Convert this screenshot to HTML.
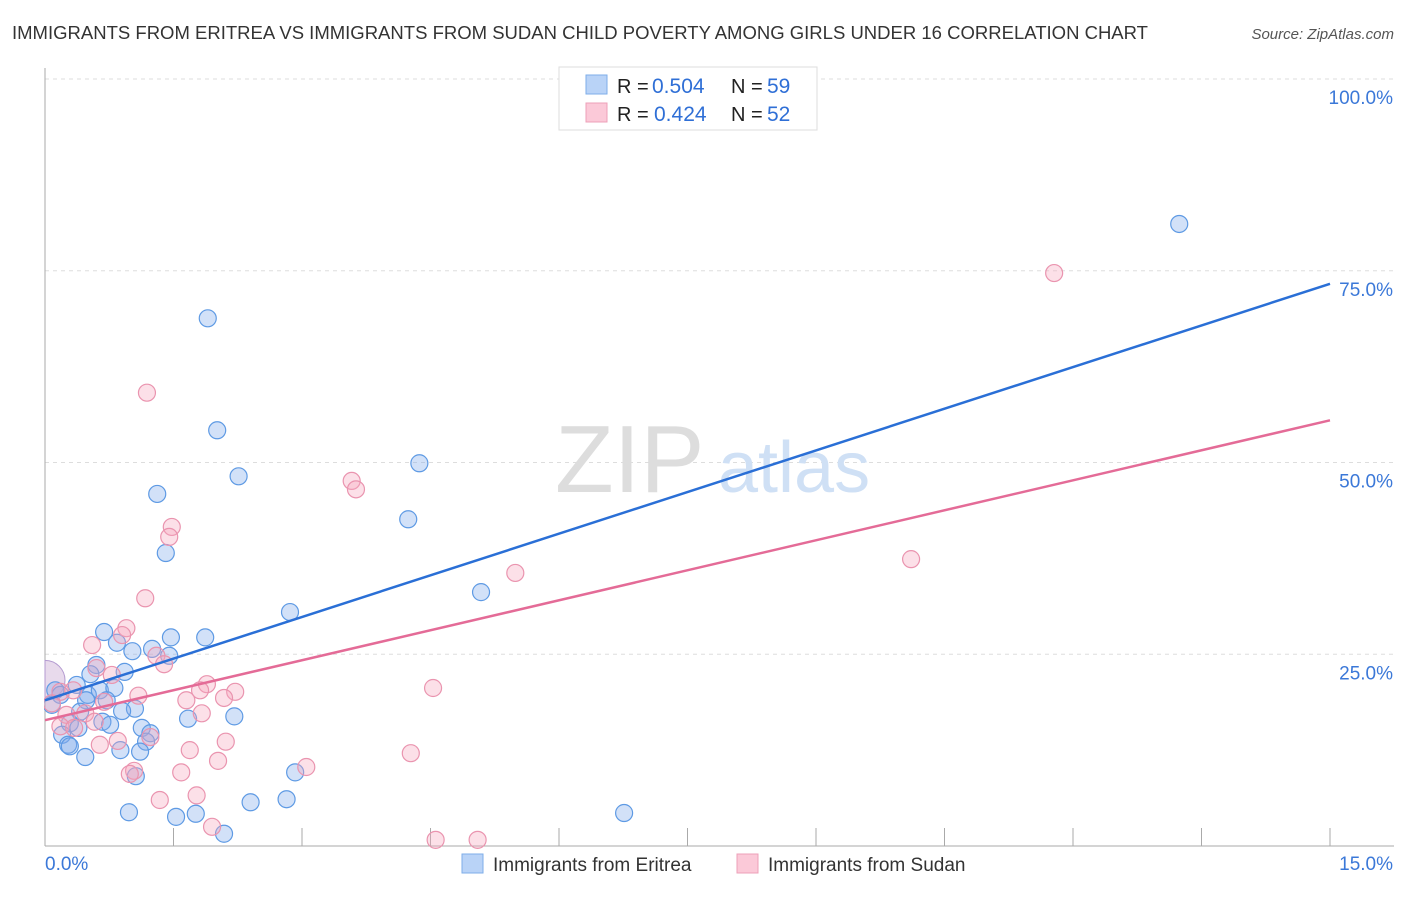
<!DOCTYPE html>
<html><head><meta charset="utf-8"><style>
body{margin:0;background:#fff;font-family:"Liberation Sans",sans-serif;}
svg text{font-family:"Liberation Sans",sans-serif;}
</style></head><body>
<svg id="chart" width="1406" height="892" xmlns="http://www.w3.org/2000/svg">
<text x="12" y="39" font-size="18" fill="#333" textLength="1136" lengthAdjust="spacingAndGlyphs">IMMIGRANTS FROM ERITREA VS IMMIGRANTS FROM SUDAN CHILD POVERTY AMONG GIRLS UNDER 16 CORRELATION CHART</text>
<text x="1394" y="39" font-size="15" fill="#555" font-style="italic" text-anchor="end">Source: ZipAtlas.com</text>
<text x="0" y="0" transform="translate(33,456) rotate(-90)" font-size="18" fill="#333" text-anchor="middle">Child Poverty Among Girls Under 16</text>
<g id="grid"></g>
<text x="555" y="492" font-size="96" fill="#ddd" font-family="Liberation Serif">ZIP</text>
<text x="718" y="492" font-size="72" fill="#cfe0f5">atlas</text>
<g id="pts"></g>
<g id="lines"></g>
<g>
<rect x="559" y="67" width="258" height="63" fill="#fff" stroke="#ddd"/>
<rect x="586" y="75" width="21" height="19" fill="#b9d3f7" stroke="#7eaee8"/>
<rect x="586" y="103" width="21" height="19" fill="#fbc9d8" stroke="#eea0b8"/>
<text x="617" y="93" font-size="20" fill="#222">R =</text>
<text x="652" y="93" font-size="21" fill="#2f6fd6">0.504</text>
<text x="731" y="93" font-size="20" fill="#222">N =</text>
<text x="767" y="93" font-size="21" fill="#2f6fd6">59</text>
<text x="617" y="121" font-size="20" fill="#222">R =</text>
<text x="654" y="121" font-size="21" fill="#2f6fd6">0.424</text>
<text x="731" y="121" font-size="20" fill="#222">N =</text>
<text x="767" y="121" font-size="21" fill="#2f6fd6">52</text>
</g>
<g>
<rect x="462" y="854" width="21" height="19" fill="#b9d3f7" stroke="#7eaee8"/>
<text x="493" y="871" font-size="19" fill="#333">Immigrants from Eritrea</text>
<rect x="737" y="854" width="21" height="19" fill="#fbc9d8" stroke="#eea0b8"/>
<text x="768" y="871" font-size="19" fill="#333">Immigrants from Sudan</text>
</g>
</svg>
<script>
const xTicks=[0,1.5,3,4.5,6,7.5,9,10.5,12,13.5,15];
const yTicks=[25,50,75,100];
const yTickLabels=["25.0%","50.0%","75.0%","100.0%"];
const blueX=[13.24,1.90,2.01,2.26,1.31,4.37,4.24,1.41,5.09,2.86,1.47,1.87,0.69,0.84,1.02,1.25,1.45,0.60,0.93,0.53,0.37,0.12,0.18,0.50,0.64,0.81,0.48,0.72,0.08,1.05,0.90,0.41,1.67,2.21,0.67,0.76,0.29,0.39,1.13,1.23,0.20,1.18,0.27,0.29,0.88,1.11,0.47,1.06,2.92,2.40,2.82,0.98,1.53,1.76,2.09,6.76];
const blueY=[81.1,68.8,54.2,48.2,45.9,49.9,42.6,38.2,33.1,30.5,27.2,27.2,27.9,26.5,25.4,25.7,24.8,23.6,22.7,22.4,21.0,20.3,19.7,19.7,20.3,20.6,19.0,19.0,18.4,17.9,17.6,17.5,16.6,16.9,16.2,15.8,16.0,15.4,15.4,14.7,14.5,13.6,13.2,13.0,12.5,12.3,11.6,9.1,9.6,5.7,6.1,4.4,3.8,4.2,1.6,4.3];
const pinkX=[11.78,1.19,3.58,3.63,1.48,1.45,10.11,5.49,1.17,0.95,0.90,0.55,1.30,1.39,0.60,0.78,4.53,1.89,1.81,2.22,1.09,0.18,0.33,1.65,2.09,0.69,0.08,1.83,0.47,0.25,0.58,0.18,0.34,1.23,0.85,2.11,0.64,1.69,4.27,2.02,3.05,1.04,1.59,0.99,1.77,1.34,1.95,4.56,5.05];
const pinkY=[74.7,59.1,47.6,46.5,41.6,40.3,37.4,35.6,32.3,28.4,27.5,26.2,24.8,23.7,23.2,22.3,20.6,21.1,20.3,20.1,19.6,20.1,20.3,19.0,19.3,18.8,18.6,17.3,17.3,17.1,16.2,15.6,15.4,14.2,13.7,13.6,13.2,12.5,12.1,11.1,10.3,9.8,9.6,9.4,6.6,6.0,2.5,0.8,0.8];
const clusterX=[0];
const clusterY=[21.6];
const blueLine=[19.0,73.3];
const pinkLine=[16.4,55.5];
const X=v=>45+v/15*1285, Y=v=>846-v*7.67;
const NS="http://www.w3.org/2000/svg";
function mk(t,a,p){const e=document.createElementNS(NS,t);for(const k in a)e.setAttribute(k,a[k]);p.appendChild(e);return e;}
const g=document.getElementById('grid');
yTicks.forEach((t,i)=>{
 const l=mk('line',{x1:45,x2:1394,y1:Y(t),y2:Y(t),stroke:'#ddd','stroke-dasharray':'4,4'},g);
 
 
 const tx=mk('text',{x:1393,y:Y(t)+25,'font-size':19,fill:'#3b78d8','text-anchor':'end'},g);
 tx.textContent=yTickLabels[i];
 
 
});
const p=document.getElementById('pts');
const cx=X(clusterX[0]), cy=Y(clusterY[0]);
const bb=mk('path',{d:`M${cx},${cy-20} A20,20 0 0 1 ${cx},${cy+20} Z`,fill:'rgba(190,150,200,0.35)',stroke:'#b39ad0'},p);


blueX.forEach((v,i)=>{const c=mk('circle',{cx:X(v),cy:Y(blueY[i]),r:8.5,fill:'rgba(125,170,235,0.35)','stroke':'#5e9ae4','stroke-width':1.2},p);
 
 });
pinkX.forEach((v,i)=>{const c=mk('circle',{cx:X(v),cy:Y(pinkY[i]),r:8.5,fill:'rgba(245,165,190,0.35)','stroke':'#ea94af','stroke-width':1.2},p);
 
 });
const wm=mk('rect',{x:0,y:60,width:44,height:790,fill:'#fff'},p);


const ax=mk('line',{x1:45,x2:45,y1:68,y2:846,stroke:'#aaa'},g);


const bx=mk('line',{x1:45,x2:1394,y1:846,y2:846,stroke:'#aaa'},g);


xTicks.forEach(t=>{const l=mk('line',{x1:X(t),x2:X(t),y1:828,y2:846,stroke:'#aaa'},g);
 
 });
[[0,"0.0%","start",45],[15,"15.0%","end",1393]].forEach(a=>{const tx=mk('text',{x:a[3],y:870,'font-size':19,fill:'#3b78d8','text-anchor':a[2]},g);tx.textContent=a[1];
 
 });
const L=document.getElementById('lines');
const b=mk('line',{x1:X(0),y1:Y(blueLine[0]),x2:X(15),y2:Y(blueLine[1]),stroke:'#2a6fd6','stroke-width':2.5},L);


const q=mk('line',{x1:X(0),y1:Y(pinkLine[0]),x2:X(15),y2:Y(pinkLine[1]),stroke:'#e46b97','stroke-width':2.5},L);


</script>
</body></html>
